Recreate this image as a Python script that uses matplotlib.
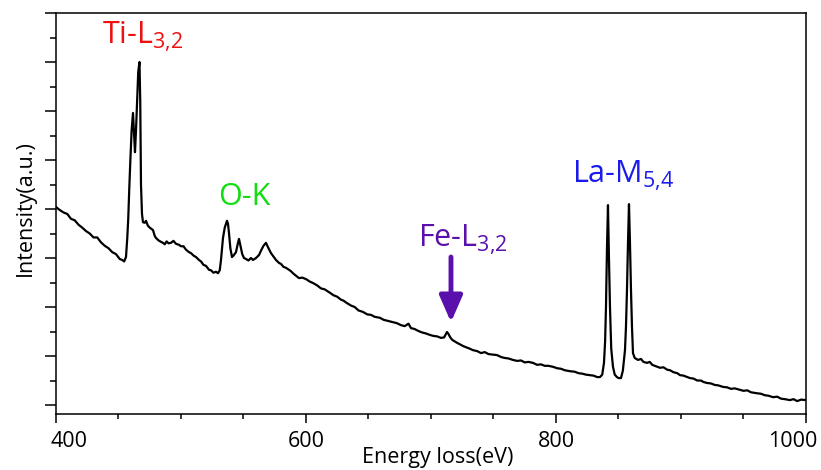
import numpy as np
import matplotlib
matplotlib.use("Agg")
import matplotlib.pyplot as plt
from matplotlib.ticker import MultipleLocator
from matplotlib.transforms import ScaledTranslation

plt.rcParams['font.family'] = ['Open Sans', 'DejaVu Sans']
plt.rcParams['mathtext.fontset'] = 'custom'
plt.rcParams['mathtext.rm'] = 'Open Sans'
plt.rcParams['mathtext.default'] = 'rm'

# Spectre EELS (énergie en eV, intensité en unités arbitraires)
energy = [
    400, 403, 406, 409, 412, 415, 418, 421, 424, 427, 430, 433, 436, 439, 442, 445, 448, 451, 453, 454.5,
    456, 457, 457.8, 458.6, 459.5, 460.5, 461.6, 462.4, 463.2, 464, 465, 465.8, 466.8, 467.4, 468, 468.8,
    469.6, 471, 472, 473.5, 475, 477.6, 479, 480, 482, 484, 485.6, 487, 488.5, 490, 492, 494, 496, 498.4,
    500, 502, 504, 506.4, 508, 510, 512, 514.4, 516, 518, 520, 522.4, 524, 526, 528, 529.6, 531, 532,
    533, 533.6, 535, 536.8, 537.6, 538.4, 539.5, 540.8, 542, 544, 545.5, 546.4, 547.2, 548, 549, 550.4,
    552, 554, 556, 557.6, 560, 562.4, 564, 566, 568, 570, 572, 574, 576, 578.4, 580, 582, 584, 586.4,
    588, 590, 592, 594.4, 597, 600, 603, 605.6, 609, 612, 615, 619.2, 622, 625, 628, 630, 632.8, 636,
    639, 642, 645.6, 649, 652, 655, 659.2, 662, 665, 668, 672.8, 676, 679, 682, 684, 687, 690, 693,
    696, 699.2, 702, 705, 708, 710.5, 712.8, 714, 715.2, 717, 720.8, 723, 726, 729, 731, 733.6, 737, 740,
    743, 746, 749, 752.8, 756, 759, 762, 765.6, 769, 772, 775, 778, 781.6, 785, 788, 791, 794, 797.6,
    801, 804, 807, 811.2, 815, 818, 821, 824, 827.2, 830, 833, 835.2, 837, 838.4, 839.3, 840, 840.8, 841.6,
    842.3, 843.2, 844.2, 845.6, 847, 848.8, 850, 852, 853.5, 855.2, 856, 856.8, 857.6, 858.4, 859.2, 860,
    860.8, 861.6, 863, 865.6, 868, 870, 872.8, 875, 877, 880, 883.2, 886, 889, 891.2, 894, 897, 899.2, 902,
    905, 907.2, 910, 913, 916, 918, 920.8, 924, 927, 930, 933.6, 937, 940, 943, 947.2, 950, 953, 956,
    960.8, 964, 967, 970, 973.6, 977, 980, 983, 987.2, 990, 993, 996, 1000,
]
intensity = [
    4.04, 3.98, 3.93, 3.90, 3.80, 3.77, 3.68, 3.62, 3.55, 3.50, 3.42, 3.42, 3.32, 3.25, 3.20, 3.12, 3.08, 2.98, 2.96, 2.93,
    3.02, 3.40, 3.80, 4.40, 5.00, 5.60, 5.96, 5.55, 5.16, 5.60, 6.30, 6.80, 7.00, 6.20, 4.50, 3.90,
    3.73, 3.72, 3.76, 3.66, 3.62, 3.57, 3.45, 3.41, 3.36, 3.33, 3.31, 3.28, 3.34, 3.30, 3.31, 3.35, 3.29, 3.27,
    3.24, 3.24, 3.17, 3.12, 3.10, 3.05, 3.02, 2.96, 2.93, 2.86, 2.84, 2.76, 2.75, 2.70, 2.72, 2.69, 2.75, 2.96,
    3.25, 3.41, 3.62, 3.76, 3.70, 3.51, 3.20, 3.02, 3.05, 3.12, 3.30, 3.39, 3.30, 3.20, 3.08, 3.00,
    2.98, 2.95, 3.00, 2.96, 3.00, 3.06, 3.15, 3.25, 3.31, 3.20, 3.10, 3.03, 2.96, 2.90, 2.88, 2.82, 2.80, 2.76,
    2.73, 2.68, 2.64, 2.59, 2.60, 2.57, 2.52, 2.49, 2.44, 2.38, 2.36, 2.29, 2.24, 2.21, 2.15, 2.13, 2.08, 2.03,
    2.00, 1.93, 1.90, 1.85, 1.84, 1.80, 1.78, 1.74, 1.72, 1.70, 1.67, 1.63, 1.61, 1.66, 1.57, 1.55, 1.51, 1.48,
    1.46, 1.43, 1.41, 1.40, 1.37, 1.38, 1.49, 1.45, 1.39, 1.33, 1.27, 1.24, 1.20, 1.17, 1.15, 1.12, 1.10, 1.06,
    1.08, 1.04, 1.03, 1.02, 0.98, 0.96, 0.95, 0.92, 0.90, 0.91, 0.87, 0.88, 0.86, 0.82, 0.83, 0.80, 0.80, 0.78,
    0.75, 0.74, 0.71, 0.69, 0.68, 0.65, 0.64, 0.62, 0.61, 0.60, 0.57, 0.57, 0.62, 0.86, 1.30, 2.00, 3.20, 4.08,
    3.10, 2.00, 1.15, 0.78, 0.62, 0.57, 0.55, 0.55, 0.70, 1.12, 1.60, 2.35, 3.30, 4.10, 3.30, 2.35,
    1.60, 1.06, 0.96, 0.92, 0.94, 0.88, 0.86, 0.88, 0.82, 0.79, 0.76, 0.77, 0.72, 0.71, 0.67, 0.65, 0.61, 0.60,
    0.57, 0.55, 0.54, 0.50, 0.50, 0.47, 0.45, 0.44, 0.41, 0.40, 0.37, 0.36, 0.33, 0.34, 0.31, 0.29, 0.30, 0.26,
    0.24, 0.23, 0.20, 0.19, 0.16, 0.17, 0.13, 0.12, 0.10, 0.12, 0.08, 0.11, 0.10,
]

xtick_pos = [400, 600, 800, 1000]
xtick_labels = ['400', '600', '800', '1000']

# Étiquettes des seuils : (texte, x, y, couleur)
edge_labels = [
    (r'Ti-L$_{3{,}2}$', 436.8, 7.37, '#ee1111'),
    ('O-K', 529.6, 4.08, '#11dd11'),
    (r'Fe-L$_{3{,}2}$', 689.6, 3.22, '#5a10aa'),
    (r'La-M$_{5{,}4}$', 812.8, 4.53, '#1a1aee'),
]
fe_arrow_x = 716
fe_arrow_y = (3.02, 1.69)

fig = plt.figure(figsize=(8.21, 4.70), dpi=100)
ax = fig.add_axes([0.0682, 0.1191, 0.9135, 0.8532])

ax.plot(energy, intensity, color='black', lw=1.6)

for txt, x, y, c in edge_labels:
    ax.text(x, y, txt, color=c, fontsize=22, ha='left', va='baseline')

ax.annotate('', xy=(fe_arrow_x, fe_arrow_y[1]), xytext=(fe_arrow_x, fe_arrow_y[0]),
            arrowprops=dict(arrowstyle='-|>,head_length=1.6,head_width=0.7',
                            color='#5a10aa', lw=3.5, shrinkA=0, shrinkB=0))

ax.set_xlim(400, 1000)
ax.set_ylim(-9 / 49, 8)
ax.set_xticks(xtick_pos)
ax.set_xticklabels(xtick_labels)
ax.xaxis.set_minor_locator(MultipleLocator(50))
ax.yaxis.set_major_locator(MultipleLocator(1))
ax.yaxis.set_minor_locator(MultipleLocator(0.5))
ax.tick_params(axis='y', which='major', length=8, width=1.1, labelleft=False)
ax.tick_params(axis='y', which='minor', length=4.5, width=1.1)
ax.tick_params(axis='x', which='major', length=6.5, width=1.1, labelsize=15.5, pad=5.5)
ax.tick_params(axis='x', which='minor', length=3.5, width=1.1)
for s in ax.spines.values():
    s.set_linewidth(1.1)

# décaler les étiquettes extrêmes vers l'intérieur
labels = ax.get_xticklabels()
labels[0].set_transform(labels[0].get_transform() + ScaledTranslation(13 / 100, 0, fig.dpi_scale_trans))
labels[-1].set_transform(labels[-1].get_transform() + ScaledTranslation(-13.5 / 100, 0, fig.dpi_scale_trans))

ax.set_xlabel('Energy loss(eV)', fontsize=15.5)
ax.xaxis.set_label_coords(0.509, -0.083)
ax.set_ylabel('Intensity(a.u.)', fontsize=15.5)
ax.yaxis.set_label_coords(-0.027, 0.514)

fig.savefig('out.png', dpi=100)
